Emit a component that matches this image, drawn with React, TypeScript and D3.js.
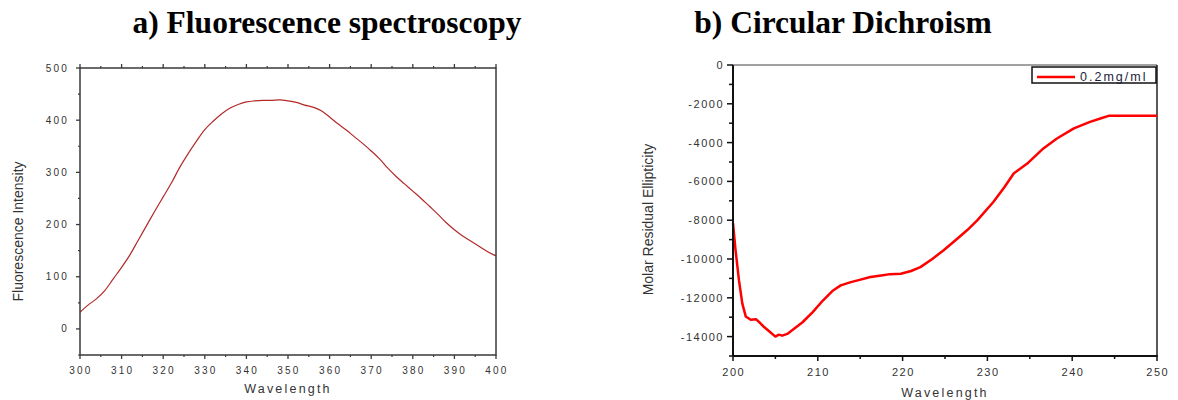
import React from "react";
import * as d3 from "d3";

// Panel a: fluorescence
const flWavelength = [300,302,304,306,308,310,312,314,316,318,320,322,324,326,328,330,332,334,336,338,340,342,344,346,348,350,352,354,356,358,360,362,364,366,368,370,372,374,376,378,380,382,384,386,388,390,392,394,396,398,400];
const flIntensity = [32,46,58,74,96,118,142,170,198,226,253,280,310,336,360,382,398,412,423,430,435,437,438,438,439,437,434,429,425,418,406,393,381,368,355,341,326,308,292,278,264,250,235,220,204,190,178,168,158,148,140];
const flXTicks = [300,310,320,330,340,350,360,370,380,390,400];
const flYTicks = [0,100,200,300,400,500];

// Panel b: circular dichroism
const cdWavelength = [200,200.3,200.7,201.1,201.5,202.1,202.7,203.2,203.7,204.3,205,205.4,205.8,206.4,207.2,208.2,209.4,210.6,211.8,212.7,213.9,214.7,216.2,217.5,218.5,219.8,221,222.1,223.5,224.8,226.2,227.6,228.8,230.7,232,233.1,234.7,236.6,238.2,240.2,242.1,243.5,244.3,250];
const cdEllipticity = [-8150,-9540,-11090,-12300,-12960,-13130,-13100,-13300,-13520,-13740,-14000,-13900,-13950,-13860,-13600,-13260,-12740,-12140,-11620,-11360,-11190,-11100,-10930,-10850,-10780,-10760,-10620,-10420,-10000,-9560,-9050,-8520,-8010,-7060,-6300,-5590,-5080,-4300,-3790,-3270,-2930,-2730,-2620,-2620];
const cdXTicks = [200,210,220,230,240,250];
const cdYTicks = [0,-2000,-4000,-6000,-8000,-10000,-12000,-14000];
const cdLegend = "0.2mg/ml";

const SANS = "'Liberation Sans', Arial, sans-serif";
const SERIF = "'Liberation Serif', 'Times New Roman', serif";

function PanelA() {
  const L = 80, R = 496, T = 68, B = 355;
  const x = d3.scaleLinear().domain([300, 400]).range([L, R]);
  const y = d3.scaleLinear().domain([-50, 500]).range([B, T]);
  const line = d3.line<number>().x((_, i) => x(flWavelength[i])).y((d) => y(d)).curve(d3.curveCatmullRom);
  const minorX = d3.range(305, 400, 10);
  const minorY = [-50, 50, 150, 250, 350, 450];
  const ax = "#3a3a3a";
  return (
    <g>
      <text x={327} y={33} textAnchor="middle" fontFamily={SERIF} fontWeight="bold" fontSize={31.5}>a) Fluorescence spectroscopy</text>
      <path d={line(flIntensity) || ""} fill="none" stroke="#b22a2a" strokeWidth={1.2} />
      <rect x={L} y={T} width={R - L} height={B - T} fill="none" stroke={ax} strokeWidth={1.5} />
      {flXTicks.map((t) => (
        <g key={"xa" + t}>
          <line x1={x(t)} x2={x(t)} y1={B} y2={B + 4} stroke={ax} strokeWidth={1.3} />
          <line x1={x(t)} x2={x(t)} y1={T} y2={T - 4} stroke={ax} strokeWidth={1.3} />
          <text x={x(t) + 1} y={B + 19} textAnchor="middle" fontFamily={SANS} fontSize={10} letterSpacing={2.2} fill="#333">{t}</text>
        </g>
      ))}
      {minorX.map((t) => (
        <g key={"xm" + t}>
          <line x1={x(t)} x2={x(t)} y1={B} y2={B + 2} stroke={ax} strokeWidth={1.2} />
          <line x1={x(t)} x2={x(t)} y1={T} y2={T - 2} stroke={ax} strokeWidth={1.2} />
        </g>
      ))}
      {flYTicks.map((t) => (
        <g key={"ya" + t}>
          <line x1={L} x2={L - 4} y1={y(t)} y2={y(t)} stroke={ax} strokeWidth={1.3} />
          <text x={L - 11} y={y(t) + 3.5} textAnchor="end" fontFamily={SANS} fontSize={10} letterSpacing={2.2} fill="#333">{t}</text>
        </g>
      ))}
      {minorY.map((t) => (
        <line key={"ym" + t} x1={L} x2={L - 2} y1={y(t)} y2={y(t)} stroke={ax} strokeWidth={1.2} />
      ))}
      <text x={(L + R) / 2} y={393} textAnchor="middle" fontFamily={SANS} fontSize={12.5} letterSpacing={2.2} fill="#333">Wavelength</text>
      <text transform={`translate(23, ${(T + B) / 2 + 20}) rotate(-90)`} textAnchor="middle" fontFamily={SANS} fontSize={14} fill="#333">Fluorescence Intensity</text>
    </g>
  );
}

function PanelB() {
  const L = 733, R = 1157, T = 65, B = 356;
  const x = d3.scaleLinear().domain([200, 250]).range([L, R]);
  const y = d3.scaleLinear().domain([-15000, 0]).range([B, T]);
  const line = d3.line<number>().x((_, i) => x(cdWavelength[i])).y((d) => y(d));
  const minorX = [205, 215, 225, 235, 245];
  const minorY = [-1000, -3000, -5000, -7000, -9000, -11000, -13000, -15000];
  return (
    <g>
      <text x={843} y={33} textAnchor="middle" fontFamily={SERIF} fontWeight="bold" fontSize={31.5}>b) Circular Dichroism</text>
      <line x1={L} x2={R} y1={T} y2={T} stroke="#444" strokeWidth={1} />
      <line x1={R} x2={R} y1={T} y2={B} stroke="#222" strokeWidth={1.5} />
      <path d={line(cdEllipticity) || ""} fill="none" stroke="#ff0000" strokeWidth={2.5} strokeLinejoin="round" />
      <line x1={L} x2={L} y1={T} y2={B} stroke="#111" strokeWidth={2} />
      <line x1={L} x2={R + 0.75} y1={B} y2={B} stroke="#111" strokeWidth={2} />
      {cdXTicks.map((t) => (
        <g key={"xb" + t}>
          <line x1={x(t)} x2={x(t)} y1={B} y2={B + 5} stroke="#111" strokeWidth={1.5} />
          <text x={x(t) + 0.75} y={B + 20} textAnchor="middle" fontFamily={SANS} fontSize={11} letterSpacing={1.5} fill="#333">{t}</text>
        </g>
      ))}
      {minorX.map((t) => (
        <line key={"xbm" + t} x1={x(t)} x2={x(t)} y1={B} y2={B + 3} stroke="#111" strokeWidth={1.5} />
      ))}
      {cdYTicks.map((t) => (
        <g key={"yb" + t}>
          <line x1={L} x2={L - 6} y1={y(t)} y2={y(t)} stroke="#111" strokeWidth={1.5} />
          <text x={L - 9} y={y(t) + 4} textAnchor="end" fontFamily={SANS} fontSize={11} letterSpacing={1.5} fill="#333">{t}</text>
        </g>
      ))}
      {minorY.map((t) => (
        <line key={"ybm" + t} x1={L} x2={L - 4} y1={y(t)} y2={y(t)} stroke="#111" strokeWidth={1.5} />
      ))}
      <text x={(L + R) / 2} y={397} textAnchor="middle" fontFamily={SANS} fontSize={12.5} letterSpacing={2.2} fill="#333">Wavelength</text>
      <text transform={`translate(653, ${(T + B) / 2 + 9}) rotate(-90)`} textAnchor="middle" fontFamily={SANS} fontSize={14} fill="#333">Molar Residual Ellipticity</text>
      <g>
        <rect x={1032} y={67} width={124} height={16} fill="#fff" stroke="#111" strokeWidth={1.5} />
        <line x1={1037} x2={1075} y1={77} y2={77} stroke="#ff0000" strokeWidth={2.5} />
        <text x={1080} y={80.5} fontFamily={SANS} fontSize={12.5} letterSpacing={2} fill="#1e1e3a">{cdLegend}</text>
      </g>
    </g>
  );
}

export default function App() {
  return (
    <svg width={1178} height={400} style={{ position: "absolute", left: 0, top: 0, background: "#fff" }}>
      <rect x={0} y={0} width={1178} height={400} fill="#fff" />
      <PanelA />
      <PanelB />
    </svg>
  );
}
